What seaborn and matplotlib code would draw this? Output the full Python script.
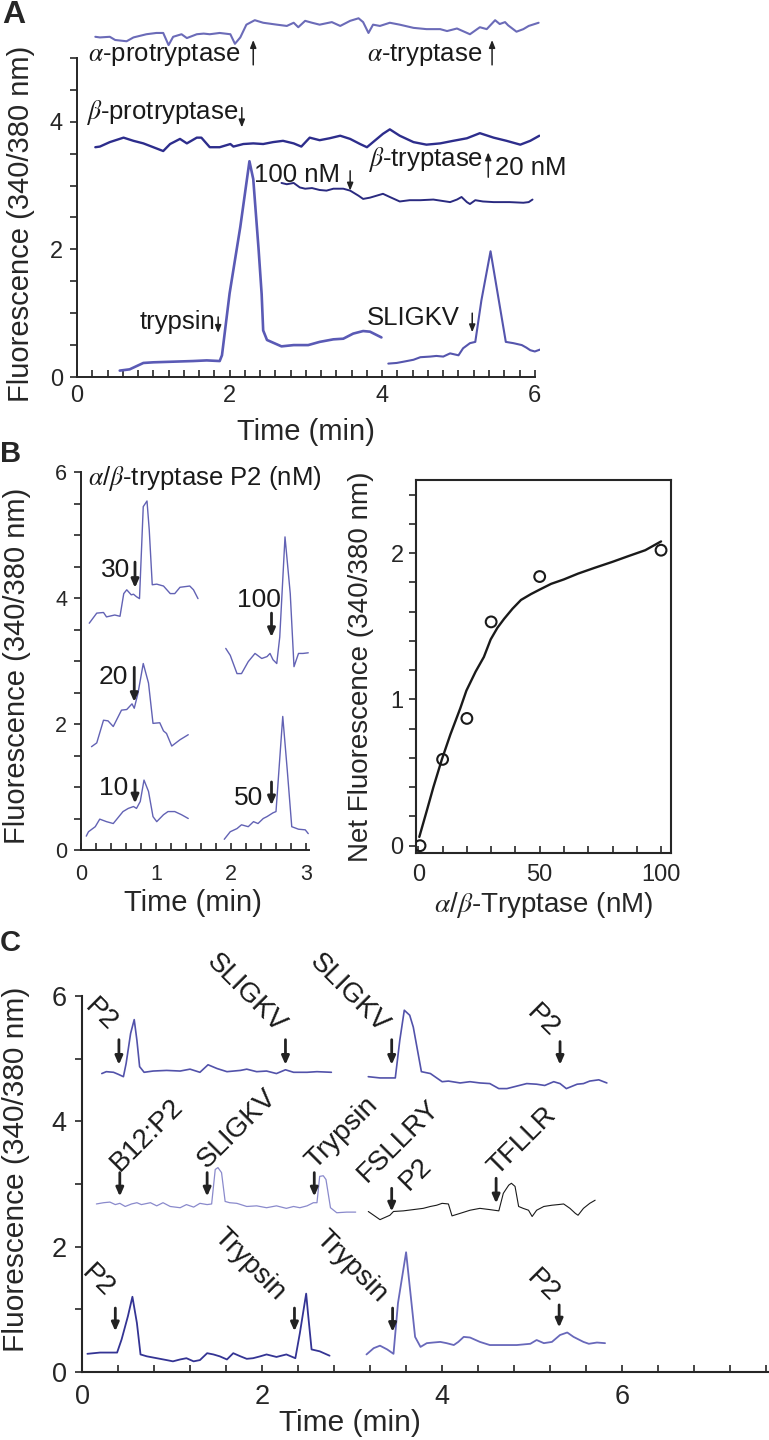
import numpy as np
import pandas as pd
import matplotlib
matplotlib.use("Agg")
import matplotlib.pyplot as plt
import seaborn as sns

sns.set_style("ticks")
plt.rcParams["font.family"] = ["Liberation Sans", "DejaVu Sans"]
plt.rcParams["mathtext.fontset"] = "stix"

# ---------------- Panel A data ----------------
a_alpha_t = [0.24,0.30,0.43,0.50,0.65,0.74,0.91,1.04,1.13,1.20,1.26,1.37,1.44,1.57,1.66,1.74,1.87,2.01,2.07,2.14,
             2.22,2.33,2.44,2.62,2.75,2.84,2.90,2.99,3.08,3.18,3.34,3.45,3.58,3.69,3.75,3.82,3.88,3.97,4.10,4.23,
             4.41,4.58,4.76,4.85,4.98,5.15,5.28,5.37,5.48,5.54,5.61,5.65,5.76,5.85,5.92,6.05]
a_alpha_f = [5.33,5.32,5.33,5.28,5.26,5.32,5.37,5.39,5.39,5.20,5.33,5.37,5.31,5.37,5.38,5.37,5.39,5.37,5.22,5.32,
             5.52,5.59,5.55,5.52,5.50,5.55,5.48,5.58,5.55,5.52,5.56,5.50,5.58,5.62,5.56,5.39,5.52,5.50,5.55,5.52,
             5.47,5.45,5.45,5.42,5.46,5.37,5.48,5.45,5.59,5.53,5.56,5.51,5.41,5.45,5.50,5.55]
a_bpro_t = [0.24,0.30,0.43,0.61,0.74,0.87,1.00,1.13,1.22,1.35,1.44,1.57,1.63,1.74,1.87,2.01,2.05,2.18,2.31,2.44,
            2.57,2.70,2.84,2.94,3.05,3.18,3.31,3.45,3.58,3.71,3.80,3.88,4.01,4.10,4.23,4.41,4.58,4.76,4.93,5.11,
            5.28,5.46,5.63,5.81,5.94,6.06]
a_bpro_f = [3.60,3.61,3.68,3.75,3.70,3.66,3.60,3.54,3.65,3.73,3.66,3.75,3.75,3.60,3.60,3.65,3.61,3.65,3.66,3.65,
            3.68,3.70,3.66,3.61,3.75,3.71,3.74,3.78,3.73,3.65,3.60,3.68,3.81,3.88,3.78,3.68,3.64,3.66,3.70,3.74,
            3.82,3.75,3.70,3.64,3.70,3.78]
a_btry_t = [2.68,2.75,2.84,2.92,2.99,3.08,3.18,3.27,3.36,3.49,3.58,3.69,3.75,3.84,4.01,4.10,4.23,4.36,4.50,4.67,
            4.78,4.89,4.98,5.04,5.11,5.15,5.22,5.32,5.46,5.67,5.85,5.92,5.97]
a_btry_f = [3.04,3.02,3.04,2.97,2.95,2.96,2.93,2.92,2.95,2.95,2.92,2.84,2.79,2.81,2.87,2.82,2.75,2.77,2.77,2.78,
            2.76,2.74,2.78,2.82,2.74,2.71,2.77,2.75,2.74,2.74,2.73,2.74,2.78]
a_tryp_t = [0.56,0.69,0.87,1.00,1.26,1.52,1.70,1.87,1.90,2.00,2.14,2.26,2.31,2.38,2.42,2.44,2.49,2.68,2.84,3.03,
            3.18,3.36,3.49,3.62,3.75,3.84,3.99]
a_tryp_f = [0.10,0.12,0.22,0.23,0.24,0.25,0.26,0.25,0.34,1.31,2.35,3.38,3.10,2.00,1.30,0.73,0.58,0.48,0.50,0.50,
            0.55,0.59,0.60,0.68,0.72,0.71,0.62]
a_slig_t = [4.08,4.19,4.28,4.41,4.50,4.63,4.71,4.80,4.89,5.00,5.06,5.15,5.22,5.30,5.42,5.52,5.62,5.72,5.83,5.89,
            5.94,6.00,6.07]
a_slig_f = [0.21,0.22,0.24,0.27,0.31,0.32,0.33,0.32,0.37,0.34,0.45,0.53,0.55,1.20,1.97,1.26,0.55,0.53,0.50,0.46,
            0.42,0.40,0.43]

a_labels = [r"$\alpha$-protryptase", r"$\alpha$-tryptase", r"$\beta$-protryptase", "100 nM",
            r"$\beta$-tryptase", "trypsin", "SLIGKV"]
a_label_x = [2.14, 5.31, 2.11, 3.45, 5.32, 1.81, 5.02]
a_label_y = [5.05, 5.05, 4.14, 3.16, 3.40, 0.86, 0.92]
a_arrow_x = [2.31, 5.44, 2.16, 3.58, 5.39, 1.85, 5.18]
a_arrow_tail = [4.89, 4.89, 4.22, 3.23, 3.13, 0.94, 1.00]
a_arrow_tip = [5.28, 5.28, 3.91, 2.92, 3.52, 0.69, 0.70]
a_extra_label = "20 nM"
a_extra_xy = (5.48, 3.28)

# ---------------- Panel B (left) data ----------------
b30_t = [0.11,0.21,0.30,0.34,0.45,0.52,0.57,0.61,0.67,0.70,0.74,0.78,0.83,0.88,0.91,0.95,1.01,1.10,1.19,1.25,1.32,1.45,1.50,1.56]
b30_f = [3.60,3.76,3.77,3.70,3.73,3.71,4.07,4.13,4.05,4.06,4.02,3.99,5.45,5.54,5.08,4.21,4.22,4.19,4.07,4.07,4.17,4.19,4.13,3.99]
b20_t = [0.14,0.21,0.30,0.36,0.43,0.54,0.61,0.68,0.71,0.76,0.83,0.90,0.96,1.05,1.10,1.14,1.21,1.32,1.43]
b20_f = [1.64,1.70,2.06,2.05,1.96,2.22,2.23,2.32,2.25,2.49,2.96,2.65,2.01,2.02,1.89,1.85,1.65,1.75,1.83]
b10_t = [0.07,0.10,0.19,0.25,0.34,0.43,0.56,0.63,0.70,0.74,0.79,0.84,0.90,0.96,1.01,1.10,1.16,1.25,1.34,1.43]
b10_f = [0.22,0.29,0.37,0.49,0.45,0.42,0.61,0.66,0.69,0.66,0.77,1.11,0.93,0.53,0.45,0.56,0.61,0.61,0.56,0.50]
b100_t = [1.93,1.99,2.08,2.14,2.23,2.32,2.41,2.48,2.52,2.56,2.61,2.65,2.72,2.79,2.84,2.90,2.96,3.03]
b100_f = [3.20,3.09,2.80,2.80,2.99,3.12,3.04,3.07,3.12,3.02,2.96,3.38,4.97,4.07,2.91,3.12,3.12,3.13]
b50_t = [1.91,1.99,2.08,2.14,2.23,2.30,2.36,2.43,2.48,2.52,2.56,2.60,2.69,2.75,2.81,2.90,2.99,3.03]
b50_f = [0.17,0.29,0.34,0.40,0.37,0.45,0.42,0.50,0.53,0.56,0.59,0.61,2.12,1.27,0.37,0.33,0.32,0.26]

b_labels = ["30", "20", "10", "100", "50"]
b_label_ha = ["right", "right", "right", "center", "right"]
b_label_x = [0.65, 0.63, 0.63, 2.37, 2.43]
b_label_y = [4.44, 2.75, 0.98, 3.97, 0.83]
b_arrow_x = [0.72, 0.71, 0.72, 2.54, 2.54]
b_arrow_tail = [4.57, 2.90, 1.11, 3.76, 1.08]
b_arrow_tip = [4.16, 2.35, 0.74, 3.38, 0.71]

# ---------------- Panel B (right) data ----------------
conc_nM = [0.7, 10, 20, 30, 50, 100]
net_fluor = [0.00, 0.59, 0.87, 1.53, 1.84, 2.02]
fit_x = [0.4, 3.5, 6.2, 9.7, 13.2, 17.3, 19.8, 23.6, 27.0, 29.8, 32.6, 35.3, 38.8, 42.3, 46.4, 49.9,
         54.7, 59.9, 65.8, 72.7, 79.9, 86.6, 93.5, 100.0]
fit_y = [0.06, 0.24, 0.40, 0.59, 0.76, 0.94, 1.06, 1.19, 1.29, 1.41, 1.49, 1.55, 1.62, 1.68, 1.72, 1.75,
         1.79, 1.82, 1.86, 1.90, 1.94, 1.98, 2.02, 2.08]

# ---------------- Panel C data ----------------
c1a_t = [0.22,0.27,0.35,0.40,0.46,0.49,0.54,0.58,0.61,0.64,0.69,0.79,0.94,1.09,1.20,1.31,1.40,1.50,1.61,1.76,1.83,1.94,2.05,2.16,2.26,2.35,2.50,2.61,2.77]
c1a_f = [4.76,4.79,4.78,4.75,4.71,4.92,5.40,5.62,5.29,4.87,4.78,4.80,4.81,4.80,4.83,4.78,4.90,4.84,4.79,4.81,4.83,4.79,4.80,4.76,4.82,4.78,4.78,4.79,4.78]
c1b_t = [3.18,3.31,3.48,3.53,3.58,3.64,3.68,3.77,3.87,4.00,4.07,4.20,4.31,4.42,4.53,4.63,4.72,4.83,4.94,5.05,5.14,5.24,5.31,5.38,5.50,5.57,5.64,5.74,5.83]
c1b_f = [4.71,4.69,4.69,5.29,5.77,5.69,5.50,4.79,4.76,4.63,4.64,4.61,4.63,4.61,4.60,4.52,4.52,4.56,4.60,4.59,4.57,4.63,4.60,4.52,4.59,4.60,4.64,4.66,4.61]
c2a_t = [0.16,0.24,0.31,0.37,0.42,0.48,0.55,0.61,0.66,0.76,0.83,0.90,0.98,1.09,1.16,1.24,1.31,1.39,1.44,1.48,
         1.51,1.55,1.59,1.64,1.72,1.83,1.94,2.05,2.16,2.27,2.35,2.42,2.50,2.57,2.61,2.64,2.68,2.71,2.76,2.83,2.94,3.04]
c2a_f = [2.68,2.70,2.71,2.67,2.69,2.64,2.68,2.70,2.67,2.70,2.65,2.70,2.64,2.62,2.67,2.63,2.69,2.67,2.68,3.23,
         3.26,3.18,2.72,2.70,2.69,2.64,2.65,2.62,2.65,2.61,2.64,2.62,2.65,2.70,2.70,3.12,3.13,3.07,2.62,2.54,2.55,2.55]
c2b_t = [3.18,3.31,3.42,3.46,3.57,3.68,3.79,3.87,3.94,4.00,4.07,4.11,4.20,4.31,4.42,4.53,4.63,4.68,4.74,4.77,
         4.81,4.85,4.90,4.96,5.00,5.05,5.13,5.22,5.29,5.35,5.42,5.48,5.51,5.57,5.64,5.70]
c2b_f = [2.56,2.43,2.50,2.56,2.57,2.59,2.61,2.64,2.66,2.69,2.68,2.49,2.53,2.58,2.61,2.59,2.57,2.85,2.98,3.01,
         2.96,2.64,2.61,2.58,2.48,2.58,2.64,2.66,2.67,2.68,2.61,2.53,2.50,2.61,2.69,2.74]
c3a_t = [0.06,0.13,0.20,0.31,0.39,0.44,0.51,0.56,0.61,0.65,0.72,0.83,0.94,1.01,1.09,1.16,1.24,1.31,1.39,1.46,
         1.53,1.61,1.68,1.76,1.83,1.90,1.98,2.05,2.16,2.27,2.37,2.42,2.49,2.51,2.55,2.64,2.75]
c3a_f = [0.29,0.30,0.31,0.31,0.31,0.52,0.89,1.20,0.78,0.28,0.25,0.22,0.19,0.17,0.20,0.22,0.17,0.19,0.30,0.28,
         0.25,0.20,0.30,0.25,0.21,0.22,0.25,0.28,0.24,0.28,0.22,0.62,1.25,0.94,0.36,0.33,0.26]
c3b_t = [3.16,3.24,3.31,3.39,3.46,3.51,3.60,3.66,3.70,3.76,3.83,3.90,3.98,4.05,4.13,4.18,4.24,4.31,4.42,4.53,
         4.68,4.83,4.98,5.05,5.13,5.22,5.31,5.39,5.46,5.57,5.63,5.72,5.81]
c3b_f = [0.28,0.38,0.42,0.36,0.29,1.10,1.91,1.10,0.56,0.40,0.46,0.47,0.48,0.46,0.43,0.48,0.56,0.55,0.48,0.43,
         0.43,0.43,0.45,0.51,0.46,0.48,0.59,0.63,0.56,0.48,0.45,0.47,0.46]

c_down_labels = ["P2", "SLIGKV", "SLIGKV", "P2", "P2", "Trypsin", "Trypsin", "P2"]
c_down_x = [0.286, 2.16, 3.30, 5.19, 0.25, 2.16, 3.29, 5.19]
c_down_y = [5.43, 5.40, 5.40, 5.32, 1.18, 1.12, 1.10, 1.10]
c_up_labels = ["B12:P2", "SLIGKV", "Trypsin", "FSLLRY", "P2", "TFLLR"]
c_up_x = [0.42, 1.385, 2.59, 3.16, 3.63, 4.61]
c_up_y = [3.19, 3.23, 3.23, 3.02, 2.88, 3.12]
c_arrow_x = [0.41, 2.26, 3.44, 5.31, 0.42, 1.39, 2.58, 3.44, 4.60, 0.37, 2.36, 3.45, 5.30]
c_arrow_tail = [5.30, 5.30, 5.30, 5.27, 3.18, 3.18, 3.18, 2.93, 3.09, 1.02, 1.02, 1.02, 1.07]
c_arrow_tip = [4.90, 4.90, 4.90, 4.90, 2.80, 2.80, 2.80, 2.56, 2.69, 0.65, 0.65, 0.64, 0.71]

# ---------------- Figure ----------------
W, H = 769, 1440
fig = plt.figure(figsize=(W / 100, H / 100), dpi=100)


def axes_px(left, top, right, bottom):
    return fig.add_axes([left / W, 1 - bottom / H, (right - left) / W, (bottom - top) / H])


def trace(ax, t, f, color, lw):
    sns.lineplot(x=t, y=f, ax=ax, color=color, linewidth=lw, sort=False,
                 estimator=None, legend=False)


def arrow(ax, x, y0, y1, lw, hl, hw, color="#222222"):
    ax.annotate("", xy=(x, y1), xytext=(x, y0),
                arrowprops=dict(arrowstyle=f"-|>,head_length={hl},head_width={hw}",
                                lw=lw, color=color, shrinkA=0, shrinkB=0),
                annotation_clip=False)


def set_ticks(ax, xt, xlab_vals, yt, ylab_vals, fmt="{:g}"):
    ax.set_xticks(xt)
    ax.set_xticklabels([fmt.format(v) if any(abs(v - w) < 1e-6 for w in xlab_vals) else "" for v in xt])
    ax.set_yticks(yt)
    ax.set_yticklabels([fmt.format(v) if any(abs(v - w) < 1e-6 for w in ylab_vals) else "" for v in yt])


# ===== Panel A =====
axA = axes_px(77, 3.6, 77 + 6.07 * 76.3, 377)
trace(axA, a_alpha_t, a_alpha_f, "#6b6bb8", 1.5)
trace(axA, a_bpro_t, a_bpro_f, "#2d2d8c", 1.7)
trace(axA, a_btry_t, a_btry_f, "#2a2a80", 1.4)
trace(axA, a_tryp_t, a_tryp_f, "#5a5ab5", 1.9)
trace(axA, a_slig_t, a_slig_f, "#5555ad", 1.5)
axA.set_xlim(0, 6.07)
axA.set_ylim(0, 5.85)
sns.despine(ax=axA)
axA.spines["left"].set_bounds(0, 5)
axA.spines["bottom"].set_bounds(0, 6)
for s in ("left", "bottom"):
    axA.spines[s].set_linewidth(1.4)
set_ticks(axA, np.round(np.arange(0, 6.01, 0.2), 2), [0, 2, 4, 6],
          np.round(np.arange(0, 5.01, 0.5), 2), [0, 2, 4])
axA.tick_params(axis="x", direction="in", length=5, width=1.2, labelsize=17, pad=6)
axA.tick_params(axis="y", direction="out", length=5, width=1.2, labelsize=17, pad=5)
for txt, x, y in zip(a_labels, a_label_x, a_label_y):
    axA.text(x, y, txt, ha="right", va="center", fontsize=18.5, color="#1a1a1a")
axA.text(a_extra_xy[0], a_extra_xy[1], a_extra_label, ha="left", va="center", fontsize=18.5, color="#1a1a1a")
for x, y0, y1 in zip(a_arrow_x, a_arrow_tail, a_arrow_tip):
    arrow(axA, x, y0, y1, 1.1, 0.45, 0.18)
axA.set_xlabel("Time (min)", fontsize=21, va="center")
axA.xaxis.set_label_coords(0.495, -0.147)
axA.set_ylabel("Fluorescence (340/380 nm)", fontsize=21, va="center")
axA.yaxis.set_label_coords(-0.12, 0.41)

# ===== Panel B left =====
axB = axes_px(81, 850 - 6.05 * 63, 81 + 3.04 * 75, 850)
for t, f in ((b30_t, b30_f), (b20_t, b20_f), (b10_t, b10_f), (b100_t, b100_f), (b50_t, b50_f)):
    trace(axB, t, f, "#6262b4", 1.0)
axB.set_xlim(0, 3.04)
axB.set_ylim(0, 6.05)
sns.despine(ax=axB)
axB.spines["left"].set_bounds(0, 6)
axB.spines["bottom"].set_bounds(0, 3.04)
for s in ("left", "bottom"):
    axB.spines[s].set_linewidth(1.4)
set_ticks(axB, np.round(np.arange(0, 3.01, 0.2), 2), [0, 1, 2, 3],
          np.round(np.arange(0, 6.01, 0.5), 2), [0, 2, 4, 6])
axB.tick_params(axis="x", direction="in", length=5, width=1.2, labelsize=15.5, pad=10)
axB.tick_params(axis="y", direction="out", length=5, width=1.2, labelsize=15.5, pad=5)
axB.text(0.09, 5.9, r"$\alpha$/$\beta$-tryptase P2 (nM)", ha="left", va="center", fontsize=18.5, color="#1a1a1a")
for txt, ha, x, y in zip(b_labels, b_label_ha, b_label_x, b_label_y):
    axB.text(x, y, txt, ha=ha, va="center", fontsize=19, color="#1a1a1a")
for x, y0, y1 in zip(b_arrow_x, b_arrow_tail, b_arrow_tip):
    arrow(axB, x, y0, y1, 2.0, 0.5, 0.22)
axB.set_xlabel("Time (min)", fontsize=21, va="center")
axB.xaxis.set_label_coords(0.49, -0.14)
axB.set_ylabel("Fluorescence (340/380 nm)", fontsize=21, va="center")
axB.yaxis.set_label_coords(-0.28, 0.484)

# ===== Panel B right =====
axR = axes_px(416, 480, 671, 853)
sns.lineplot(x=fit_x, y=fit_y, ax=axR, color="#1a1a1a", linewidth=1.7, sort=False, estimator=None)
sns.scatterplot(x=conc_nM, y=net_fluor, ax=axR, s=60, marker="o", facecolor="none",
                edgecolor="#1a1a1a", linewidth=1.5, zorder=3)
axR.set_xlim(-0.96, 104.1)
axR.set_ylim(-0.05, 2.5)
for s in axR.spines.values():
    s.set_linewidth(1.5)
set_ticks(axR, np.arange(0, 101, 10), [0, 50, 100],
          np.round(np.arange(0, 2.41, 0.2), 2), [0, 1, 2])
axR.tick_params(axis="x", direction="in", length=5, width=1.2, labelsize=17, pad=8)
axR.tick_params(axis="y", direction="out", length=5, width=1.2, labelsize=17, pad=4)
axR.set_xlabel(r"$\alpha$/$\beta$-Tryptase (nM)", fontsize=20, va="center")
axR.xaxis.set_label_coords(0.5, -0.139)
axR.set_ylabel("Net Fluorescence (340/380 nm)", fontsize=20, va="center")
axR.yaxis.set_label_coords(-0.216, 0.5)

# ===== Panel C =====
axC = axes_px(82, 1372 - 6.62 * 62.7, 768, 1372)
trace(axC, c1a_t, c1a_f, "#5252aa", 1.2)
trace(axC, c1b_t, c1b_f, "#5252aa", 1.2)
trace(axC, c2a_t, c2a_f, "#8a8acc", 0.9)
trace(axC, c2b_t, c2b_f, "#1a1a1a", 0.8)
trace(axC, c3a_t, c3a_f, "#343494", 1.3)
trace(axC, c3b_t, c3b_f, "#6868ba", 1.3)
axC.set_xlim(0, 7.62)
axC.set_ylim(0, 6.62)
sns.despine(ax=axC)
axC.spines["left"].set_bounds(0, 6)
for s in ("left", "bottom"):
    axC.spines[s].set_linewidth(1.5)
set_ticks(axC, np.round(np.arange(0, 7.61, 0.4), 2), [0, 2, 4, 6],
          np.arange(0, 6.01, 1.0), [0, 2, 4, 6])
axC.tick_params(axis="x", direction="in", length=5, width=1.2, labelsize=19.5, pad=9)
axC.tick_params(axis="y", direction="out", length=5, width=1.2, labelsize=19.5, pad=6)
for txt, x, y in zip(c_down_labels, c_down_x, c_down_y):
    axC.text(x, y, txt, rotation=-45, rotation_mode="anchor", ha="right", va="baseline",
             fontsize=20, color="#1a1a1a")
for txt, x, y in zip(c_up_labels, c_up_x, c_up_y):
    axC.text(x, y, txt, rotation=45, rotation_mode="anchor", ha="left", va="baseline",
             fontsize=20, color="#1a1a1a")
for x, y0, y1 in zip(c_arrow_x, c_arrow_tail, c_arrow_tip):
    arrow(axC, x, y0, y1, 2.0, 0.5, 0.22)
axC.set_xlabel("Time (min)", fontsize=21.5, va="center")
axC.xaxis.set_label_coords(0.39, -0.123)
axC.set_ylabel("Fluorescence (340/380 nm)", fontsize=21.5, va="center")
axC.yaxis.set_label_coords(-0.096, 0.488)

# Panel letters
fig.text(2 / W, 1 - 0 / H, "A", ha="left", va="top", fontsize=23, fontweight="bold")
fig.text(0 / W, 1 - 440 / H, "B", ha="left", va="top", fontsize=21, fontweight="bold")
fig.text(0 / W, 1 - 929 / H, "C", ha="left", va="top", fontsize=21, fontweight="bold")

fig.savefig("out.png", dpi=100)
